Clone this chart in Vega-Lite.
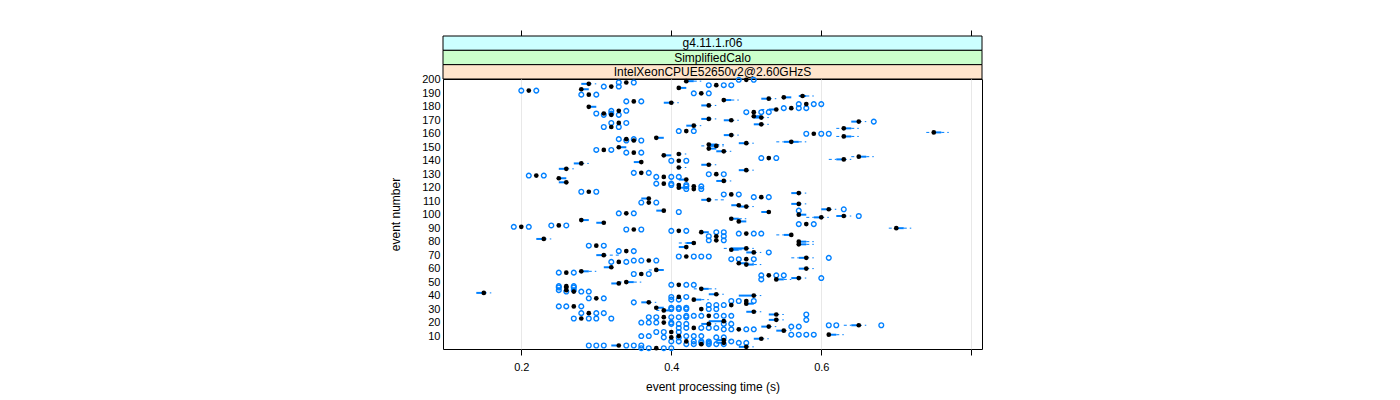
{
  "$schema": "https://vega.github.io/schema/vega-lite/v6.json",
  "padding": {"left": 389, "top": 29, "right": 5, "bottom": 5},
  "spacing": 0,
  "bounds": "flush",
  "config": {"font": "Liberation Sans", "view": {"stroke": null}},
  "datasets": {
    "box": [
      {"e":200,"med":0.50,"q1":0.50,"q3":0.50,"lo":0.50,"hi":0.50},
      {"e":199,"med":0.42,"q1":0.42,"q3":0.43,"lo":0.42,"hi":0.44},
      {"e":198,"med":0.34,"q1":0.34,"q3":0.34,"lo":0.34,"hi":0.34},
      {"e":197,"med":0.29,"q1":0.28,"q3":0.29,"lo":0.28,"hi":0.30},
      {"e":196,"med":0.46,"q1":0.46,"q3":0.46,"lo":0.46,"hi":0.46},
      {"e":195,"med":0.32,"q1":0.32,"q3":0.32,"lo":0.32,"hi":0.32},
      {"e":194,"med":0.41,"q1":0.41,"q3":0.42,"lo":0.41,"hi":0.42},
      {"e":193,"med":0.28,"q1":0.28,"q3":0.29,"lo":0.28,"hi":0.29},
      {"e":192,"med":0.21,"q1":0.21,"q3":0.21,"lo":0.21,"hi":0.21},
      {"e":190,"med":0.44,"q1":0.44,"q3":0.44,"lo":0.44,"hi":0.44},
      {"e":189,"med":0.29,"q1":0.29,"q3":0.29,"lo":0.29,"hi":0.29},
      {"e":188,"med":0.575,"q1":0.57,"q3":0.58,"lo":0.57,"hi":0.59},
      {"e":187,"med":0.55,"q1":0.55,"q3":0.56,"lo":0.55,"hi":0.56},
      {"e":186,"med":0.53,"q1":0.52,"q3":0.53,"lo":0.52,"hi":0.54},
      {"e":185,"med":0.47,"q1":0.47,"q3":0.48,"lo":0.47,"hi":0.49},
      {"e":184,"med":0.35,"q1":0.35,"q3":0.35,"lo":0.35,"hi":0.35},
      {"e":183,"med":0.40,"q1":0.39,"q3":0.40,"lo":0.39,"hi":0.41},
      {"e":182,"med":0.58,"q1":0.58,"q3":0.58,"lo":0.58,"hi":0.58},
      {"e":181,"med":0.45,"q1":0.44,"q3":0.45,"lo":0.44,"hi":0.46},
      {"e":180,"med":0.29,"q1":0.29,"q3":0.30,"lo":0.29,"hi":0.30},
      {"e":179,"med":0.56,"q1":0.56,"q3":0.56,"lo":0.56,"hi":0.56},
      {"e":178,"med":0.54,"q1":0.53,"q3":0.54,"lo":0.52,"hi":0.54},
      {"e":177,"med":0.33,"q1":0.33,"q3":0.33,"lo":0.33,"hi":0.33},
      {"e":176,"med":0.51,"q1":0.51,"q3":0.51,"lo":0.51,"hi":0.51},
      {"e":175,"med":0.31,"q1":0.31,"q3":0.31,"lo":0.31,"hi":0.31},
      {"e":174,"med":0.32,"q1":0.32,"q3":0.32,"lo":0.32,"hi":0.32},
      {"e":173,"med":0.51,"q1":0.51,"q3":0.52,"lo":0.51,"hi":0.52},
      {"e":172,"med":0.52,"q1":0.51,"q3":0.52,"lo":0.51,"hi":0.53},
      {"e":171,"med":0.45,"q1":0.44,"q3":0.45,"lo":0.44,"hi":0.46},
      {"e":170,"med":0.48,"q1":0.47,"q3":0.48,"lo":0.47,"hi":0.49},
      {"e":169,"med":0.65,"q1":0.64,"q3":0.65,"lo":0.64,"hi":0.66},
      {"e":168,"med":0.33,"q1":0.33,"q3":0.33,"lo":0.33,"hi":0.33},
      {"e":167,"med":0.52,"q1":0.51,"q3":0.52,"lo":0.51,"hi":0.53},
      {"e":166,"med":0.43,"q1":0.42,"q3":0.43,"lo":0.42,"hi":0.44},
      {"e":165,"med":0.32,"q1":0.32,"q3":0.32,"lo":0.32,"hi":0.32},
      {"e":164,"med":0.63,"q1":0.63,"q3":0.64,"lo":0.62,"hi":0.65},
      {"e":162,"med":0.42,"q1":0.42,"q3":0.42,"lo":0.42,"hi":0.42},
      {"e":161,"med":0.75,"q1":0.75,"q3":0.76,"lo":0.74,"hi":0.77},
      {"e":160,"med":0.59,"q1":0.59,"q3":0.59,"lo":0.59,"hi":0.59},
      {"e":159,"med":0.48,"q1":0.47,"q3":0.48,"lo":0.47,"hi":0.49},
      {"e":158,"med":0.63,"q1":0.63,"q3":0.64,"lo":0.62,"hi":0.65},
      {"e":157,"med":0.38,"q1":0.38,"q3":0.39,"lo":0.38,"hi":0.39},
      {"e":156,"med":0.34,"q1":0.34,"q3":0.34,"lo":0.34,"hi":0.34},
      {"e":155,"med":0.35,"q1":0.35,"q3":0.35,"lo":0.35,"hi":0.35},
      {"e":154,"med":0.56,"q1":0.55,"q3":0.57,"lo":0.54,"hi":0.58},
      {"e":153,"med":0.50,"q1":0.49,"q3":0.50,"lo":0.49,"hi":0.51},
      {"e":152,"med":0.45,"q1":0.45,"q3":0.46,"lo":0.45,"hi":0.47},
      {"e":151,"med":0.46,"q1":0.45,"q3":0.46,"lo":0.44,"hi":0.47},
      {"e":150,"med":0.33,"q1":0.33,"q3":0.34,"lo":0.33,"hi":0.34},
      {"e":149,"med":0.45,"q1":0.45,"q3":0.46,"lo":0.45,"hi":0.46},
      {"e":148,"med":0.31,"q1":0.31,"q3":0.31,"lo":0.31,"hi":0.31},
      {"e":147,"med":0.47,"q1":0.46,"q3":0.47,"lo":0.46,"hi":0.48},
      {"e":146,"med":0.35,"q1":0.35,"q3":0.35,"lo":0.35,"hi":0.35},
      {"e":145,"med":0.41,"q1":0.41,"q3":0.41,"lo":0.41,"hi":0.42},
      {"e":144,"med":0.39,"q1":0.39,"q3":0.40,"lo":0.39,"hi":0.40},
      {"e":143,"med":0.65,"q1":0.65,"q3":0.66,"lo":0.64,"hi":0.67},
      {"e":142,"med":0.53,"q1":0.53,"q3":0.53,"lo":0.53,"hi":0.53},
      {"e":141,"med":0.63,"q1":0.62,"q3":0.63,"lo":0.61,"hi":0.64},
      {"e":140,"med":0.41,"q1":0.41,"q3":0.41,"lo":0.41,"hi":0.41},
      {"e":139,"med":0.36,"q1":0.35,"q3":0.36,"lo":0.35,"hi":0.36},
      {"e":138,"med":0.28,"q1":0.27,"q3":0.28,"lo":0.27,"hi":0.29},
      {"e":137,"med":0.45,"q1":0.44,"q3":0.45,"lo":0.44,"hi":0.46},
      {"e":135,"med":0.41,"q1":0.41,"q3":0.41,"lo":0.41,"hi":0.42},
      {"e":134,"med":0.26,"q1":0.25,"q3":0.26,"lo":0.25,"hi":0.27},
      {"e":133,"med":0.50,"q1":0.49,"q3":0.50,"lo":0.49,"hi":0.51},
      {"e":131,"med":0.36,"q1":0.36,"q3":0.36,"lo":0.36,"hi":0.36},
      {"e":130,"med":0.46,"q1":0.46,"q3":0.46,"lo":0.46,"hi":0.46},
      {"e":129,"med":0.22,"q1":0.22,"q3":0.22,"lo":0.22,"hi":0.22},
      {"e":128,"med":0.39,"q1":0.39,"q3":0.39,"lo":0.39,"hi":0.39},
      {"e":127,"med":0.25,"q1":0.25,"q3":0.26,"lo":0.25,"hi":0.26},
      {"e":126,"med":0.42,"q1":0.41,"q3":0.42,"lo":0.41,"hi":0.42},
      {"e":125,"med":0.47,"q1":0.46,"q3":0.47,"lo":0.46,"hi":0.48},
      {"e":124,"med":0.26,"q1":0.25,"q3":0.26,"lo":0.25,"hi":0.26},
      {"e":123,"med":0.39,"q1":0.39,"q3":0.39,"lo":0.39,"hi":0.39},
      {"e":122,"med":0.41,"q1":0.41,"q3":0.41,"lo":0.41,"hi":0.41},
      {"e":121,"med":0.43,"q1":0.43,"q3":0.43,"lo":0.43,"hi":0.43},
      {"e":120,"med":0.41,"q1":0.41,"q3":0.42,"lo":0.41,"hi":0.42},
      {"e":119,"med":0.43,"q1":0.43,"q3":0.43,"lo":0.43,"hi":0.43},
      {"e":117,"med":0.29,"q1":0.29,"q3":0.29,"lo":0.29,"hi":0.29},
      {"e":116,"med":0.57,"q1":0.56,"q3":0.57,"lo":0.56,"hi":0.58},
      {"e":115,"med":0.48,"q1":0.48,"q3":0.48,"lo":0.48,"hi":0.48},
      {"e":113,"med":0.52,"q1":0.52,"q3":0.52,"lo":0.52,"hi":0.52},
      {"e":112,"med":0.37,"q1":0.36,"q3":0.37,"lo":0.36,"hi":0.37},
      {"e":111,"med":0.45,"q1":0.44,"q3":0.45,"lo":0.44,"hi":0.47},
      {"e":109,"med":0.37,"q1":0.37,"q3":0.37,"lo":0.37,"hi":0.37},
      {"e":108,"med":0.57,"q1":0.56,"q3":0.57,"lo":0.56,"hi":0.58},
      {"e":107,"med":0.49,"q1":0.48,"q3":0.49,"lo":0.48,"hi":0.49},
      {"e":106,"med":0.50,"q1":0.49,"q3":0.50,"lo":0.49,"hi":0.51},
      {"e":104,"med":0.61,"q1":0.60,"q3":0.61,"lo":0.60,"hi":0.62},
      {"e":103,"med":0.39,"q1":0.38,"q3":0.39,"lo":0.38,"hi":0.39},
      {"e":102,"med":0.53,"q1":0.52,"q3":0.53,"lo":0.52,"hi":0.53},
      {"e":101,"med":0.34,"q1":0.34,"q3":0.34,"lo":0.34,"hi":0.34},
      {"e":100,"med":0.57,"q1":0.57,"q3":0.58,"lo":0.57,"hi":0.58},
      {"e":99,"med":0.63,"q1":0.62,"q3":0.63,"lo":0.62,"hi":0.64},
      {"e":98,"med":0.60,"q1":0.59,"q3":0.60,"lo":0.58,"hi":0.61},
      {"e":97,"med":0.48,"q1":0.48,"q3":0.49,"lo":0.48,"hi":0.50},
      {"e":96,"med":0.28,"q1":0.28,"q3":0.29,"lo":0.28,"hi":0.29},
      {"e":95,"med":0.49,"q1":0.49,"q3":0.50,"lo":0.49,"hi":0.50},
      {"e":94,"med":0.31,"q1":0.30,"q3":0.31,"lo":0.30,"hi":0.31},
      {"e":93,"med":0.58,"q1":0.58,"q3":0.58,"lo":0.58,"hi":0.58},
      {"e":92,"med":0.25,"q1":0.25,"q3":0.25,"lo":0.25,"hi":0.25},
      {"e":91,"med":0.20,"q1":0.20,"q3":0.20,"lo":0.20,"hi":0.20},
      {"e":90,"med":0.70,"q1":0.70,"q3":0.71,"lo":0.69,"hi":0.72},
      {"e":89,"med":0.35,"q1":0.35,"q3":0.35,"lo":0.35,"hi":0.35},
      {"e":88,"med":0.41,"q1":0.41,"q3":0.41,"lo":0.41,"hi":0.41},
      {"e":87,"med":0.44,"q1":0.44,"q3":0.45,"lo":0.44,"hi":0.45},
      {"e":86,"med":0.50,"q1":0.50,"q3":0.50,"lo":0.50,"hi":0.50},
      {"e":85,"med":0.56,"q1":0.55,"q3":0.56,"lo":0.54,"hi":0.56},
      {"e":84,"med":0.46,"q1":0.46,"q3":0.46,"lo":0.46,"hi":0.46},
      {"e":82,"med":0.23,"q1":0.22,"q3":0.23,"lo":0.22,"hi":0.24},
      {"e":81,"med":0.46,"q1":0.46,"q3":0.46,"lo":0.46,"hi":0.46},
      {"e":80,"med":0.57,"q1":0.57,"q3":0.58,"lo":0.57,"hi":0.59},
      {"e":79,"med":0.43,"q1":0.42,"q3":0.43,"lo":0.41,"hi":0.43},
      {"e":78,"med":0.57,"q1":0.57,"q3":0.58,"lo":0.57,"hi":0.59},
      {"e":77,"med":0.30,"q1":0.30,"q3":0.30,"lo":0.30,"hi":0.30},
      {"e":76,"med":0.42,"q1":0.41,"q3":0.42,"lo":0.41,"hi":0.42},
      {"e":75,"med":0.50,"q1":0.48,"q3":0.50,"lo":0.47,"hi":0.51},
      {"e":74,"med":0.48,"q1":0.48,"q3":0.49,"lo":0.48,"hi":0.50},
      {"e":73,"med":0.34,"q1":0.34,"q3":0.34,"lo":0.34,"hi":0.34},
      {"e":72,"med":0.51,"q1":0.50,"q3":0.51,"lo":0.50,"hi":0.52},
      {"e":70,"med":0.31,"q1":0.30,"q3":0.31,"lo":0.30,"hi":0.33},
      {"e":69,"med":0.42,"q1":0.42,"q3":0.42,"lo":0.42,"hi":0.42},
      {"e":68,"med":0.58,"q1":0.57,"q3":0.58,"lo":0.56,"hi":0.59},
      {"e":67,"med":0.50,"q1":0.50,"q3":0.50,"lo":0.50,"hi":0.50},
      {"e":66,"med":0.37,"q1":0.37,"q3":0.37,"lo":0.37,"hi":0.37},
      {"e":65,"med":0.33,"q1":0.33,"q3":0.33,"lo":0.33,"hi":0.33},
      {"e":64,"med":0.49,"q1":0.49,"q3":0.50,"lo":0.49,"hi":0.51},
      {"e":63,"med":0.50,"q1":0.50,"q3":0.51,"lo":0.50,"hi":0.52},
      {"e":61,"med":0.32,"q1":0.31,"q3":0.32,"lo":0.31,"hi":0.32},
      {"e":60,"med":0.58,"q1":0.57,"q3":0.58,"lo":0.57,"hi":0.59},
      {"e":59,"med":0.38,"q1":0.38,"q3":0.39,"lo":0.37,"hi":0.39},
      {"e":58,"med":0.28,"q1":0.28,"q3":0.29,"lo":0.28,"hi":0.30},
      {"e":57,"med":0.26,"q1":0.26,"q3":0.26,"lo":0.26,"hi":0.26},
      {"e":56,"med":0.36,"q1":0.36,"q3":0.36,"lo":0.36,"hi":0.36},
      {"e":55,"med":0.53,"q1":0.53,"q3":0.53,"lo":0.53,"hi":0.53},
      {"e":53,"med":0.57,"q1":0.56,"q3":0.57,"lo":0.56,"hi":0.58},
      {"e":52,"med":0.54,"q1":0.54,"q3":0.55,"lo":0.54,"hi":0.56},
      {"e":50,"med":0.34,"q1":0.34,"q3":0.35,"lo":0.33,"hi":0.36},
      {"e":49,"med":0.33,"q1":0.32,"q3":0.33,"lo":0.32,"hi":0.33},
      {"e":48,"med":0.41,"q1":0.41,"q3":0.41,"lo":0.41,"hi":0.41},
      {"e":47,"med":0.26,"q1":0.26,"q3":0.26,"lo":0.26,"hi":0.26},
      {"e":46,"med":0.26,"q1":0.26,"q3":0.26,"lo":0.26,"hi":0.26},
      {"e":45,"med":0.44,"q1":0.44,"q3":0.45,"lo":0.43,"hi":0.46},
      {"e":44,"med":0.26,"q1":0.26,"q3":0.26,"lo":0.26,"hi":0.26},
      {"e":43,"med":0.27,"q1":0.27,"q3":0.27,"lo":0.27,"hi":0.27},
      {"e":42,"med":0.15,"q1":0.14,"q3":0.15,"lo":0.14,"hi":0.16},
      {"e":41,"med":0.46,"q1":0.45,"q3":0.46,"lo":0.45,"hi":0.47},
      {"e":40,"med":0.51,"q1":0.49,"q3":0.51,"lo":0.49,"hi":0.52},
      {"e":39,"med":0.41,"q1":0.41,"q3":0.41,"lo":0.41,"hi":0.41},
      {"e":38,"med":0.30,"q1":0.30,"q3":0.30,"lo":0.30,"hi":0.30},
      {"e":37,"med":0.43,"q1":0.43,"q3":0.44,"lo":0.43,"hi":0.45},
      {"e":36,"med":0.50,"q1":0.50,"q3":0.50,"lo":0.50,"hi":0.50},
      {"e":35,"med":0.37,"q1":0.36,"q3":0.37,"lo":0.36,"hi":0.38},
      {"e":34,"med":0.50,"q1":0.50,"q3":0.51,"lo":0.50,"hi":0.51},
      {"e":33,"med":0.48,"q1":0.48,"q3":0.48,"lo":0.48,"hi":0.48},
      {"e":32,"med":0.27,"q1":0.27,"q3":0.27,"lo":0.27,"hi":0.27},
      {"e":31,"med":0.38,"q1":0.38,"q3":0.39,"lo":0.38,"hi":0.39},
      {"e":30,"med":0.44,"q1":0.44,"q3":0.44,"lo":0.44,"hi":0.44},
      {"e":29,"med":0.39,"q1":0.39,"q3":0.40,"lo":0.38,"hi":0.40},
      {"e":28,"med":0.51,"q1":0.50,"q3":0.51,"lo":0.50,"hi":0.52},
      {"e":27,"med":0.29,"q1":0.29,"q3":0.29,"lo":0.29,"hi":0.29},
      {"e":26,"med":0.54,"q1":0.53,"q3":0.54,"lo":0.53,"hi":0.55},
      {"e":25,"med":0.45,"q1":0.45,"q3":0.45,"lo":0.45,"hi":0.45},
      {"e":24,"med":0.39,"q1":0.39,"q3":0.39,"lo":0.39,"hi":0.39},
      {"e":23,"med":0.28,"q1":0.28,"q3":0.28,"lo":0.28,"hi":0.28},
      {"e":22,"med":0.54,"q1":0.53,"q3":0.54,"lo":0.53,"hi":0.55},
      {"e":21,"med":0.47,"q1":0.45,"q3":0.47,"lo":0.45,"hi":0.48},
      {"e":20,"med":0.39,"q1":0.39,"q3":0.39,"lo":0.39,"hi":0.39},
      {"e":19,"med":0.45,"q1":0.44,"q3":0.45,"lo":0.44,"hi":0.46},
      {"e":18,"med":0.65,"q1":0.64,"q3":0.65,"lo":0.63,"hi":0.66},
      {"e":17,"med":0.53,"q1":0.52,"q3":0.53,"lo":0.52,"hi":0.54},
      {"e":16,"med":0.43,"q1":0.43,"q3":0.43,"lo":0.43,"hi":0.43},
      {"e":15,"med":0.49,"q1":0.49,"q3":0.49,"lo":0.49,"hi":0.49},
      {"e":14,"med":0.55,"q1":0.54,"q3":0.55,"lo":0.54,"hi":0.56},
      {"e":13,"med":0.40,"q1":0.40,"q3":0.40,"lo":0.40,"hi":0.40},
      {"e":11,"med":0.61,"q1":0.61,"q3":0.62,"lo":0.61,"hi":0.63},
      {"e":10,"med":0.41,"q1":0.41,"q3":0.41,"lo":0.41,"hi":0.41},
      {"e":9,"med":0.40,"q1":0.40,"q3":0.40,"lo":0.40,"hi":0.40},
      {"e":8,"med":0.52,"q1":0.51,"q3":0.52,"lo":0.51,"hi":0.53},
      {"e":7,"med":0.47,"q1":0.46,"q3":0.47,"lo":0.46,"hi":0.48},
      {"e":6,"med":0.42,"q1":0.42,"q3":0.42,"lo":0.42,"hi":0.42},
      {"e":5,"med":0.47,"q1":0.46,"q3":0.47,"lo":0.46,"hi":0.47},
      {"e":4,"med":0.44,"q1":0.44,"q3":0.44,"lo":0.44,"hi":0.44},
      {"e":3,"med":0.33,"q1":0.32,"q3":0.33,"lo":0.32,"hi":0.33},
      {"e":2,"med":0.50,"q1":0.49,"q3":0.50,"lo":0.49,"hi":0.51},
      {"e":1,"med":0.38,"q1":0.38,"q3":0.38,"lo":0.38,"hi":0.38}
    ],
    "out": [
      {"e":200,"v":0.49},{"e":200,"v":0.51},
      {"e":198,"v":0.33},{"e":198,"v":0.35},
      {"e":196,"v":0.45},{"e":196,"v":0.47},{"e":196,"v":0.48},
      {"e":195,"v":0.31},{"e":195,"v":0.33},
      {"e":192,"v":0.20},{"e":192,"v":0.22},
      {"e":190,"v":0.43},{"e":190,"v":0.45},
      {"e":189,"v":0.28},{"e":189,"v":0.30},
      {"e":184,"v":0.34},{"e":184,"v":0.36},
      {"e":182,"v":0.57},{"e":182,"v":0.59},{"e":182,"v":0.60},
      {"e":179,"v":0.55},{"e":179,"v":0.57},{"e":179,"v":0.58},
      {"e":177,"v":0.32},{"e":177,"v":0.34},
      {"e":176,"v":0.50},{"e":176,"v":0.52},{"e":176,"v":0.53},
      {"e":175,"v":0.30},{"e":175,"v":0.32},
      {"e":174,"v":0.31},{"e":174,"v":0.33},
      {"e":169,"v":0.67},
      {"e":168,"v":0.32},{"e":168,"v":0.34},
      {"e":165,"v":0.31},{"e":165,"v":0.33},
      {"e":162,"v":0.41},{"e":162,"v":0.43},
      {"e":160,"v":0.58},{"e":160,"v":0.60},{"e":160,"v":0.61},
      {"e":156,"v":0.33},{"e":156,"v":0.35},
      {"e":155,"v":0.34},{"e":155,"v":0.36},
      {"e":148,"v":0.30},{"e":148,"v":0.32},
      {"e":146,"v":0.34},{"e":146,"v":0.36},
      {"e":142,"v":0.52},{"e":142,"v":0.54},
      {"e":140,"v":0.40},{"e":140,"v":0.42},
      {"e":131,"v":0.35},{"e":131,"v":0.37},
      {"e":130,"v":0.45},{"e":130,"v":0.47},
      {"e":129,"v":0.21},{"e":129,"v":0.23},
      {"e":128,"v":0.38},{"e":128,"v":0.40},{"e":128,"v":0.41},
      {"e":123,"v":0.38},{"e":123,"v":0.40},
      {"e":122,"v":0.40},{"e":122,"v":0.42},
      {"e":121,"v":0.42},{"e":121,"v":0.44},
      {"e":119,"v":0.42},{"e":119,"v":0.44},
      {"e":117,"v":0.28},{"e":117,"v":0.30},
      {"e":115,"v":0.47},{"e":115,"v":0.49},
      {"e":113,"v":0.51},{"e":113,"v":0.53},
      {"e":109,"v":0.36},{"e":109,"v":0.38},
      {"e":104,"v":0.63},
      {"e":103,"v":0.57},
      {"e":102,"v":0.41},
      {"e":101,"v":0.33},{"e":101,"v":0.35},
      {"e":99,"v":0.65},
      {"e":93,"v":0.57},{"e":93,"v":0.59},
      {"e":92,"v":0.24},{"e":92,"v":0.26},
      {"e":91,"v":0.19},{"e":91,"v":0.21},
      {"e":89,"v":0.34},{"e":89,"v":0.36},
      {"e":88,"v":0.40},{"e":88,"v":0.42},
      {"e":87,"v":0.46},{"e":87,"v":0.47},
      {"e":86,"v":0.49},{"e":86,"v":0.51},{"e":86,"v":0.52},
      {"e":84,"v":0.45},{"e":84,"v":0.47},
      {"e":81,"v":0.45},{"e":81,"v":0.47},
      {"e":77,"v":0.29},{"e":77,"v":0.31},
      {"e":73,"v":0.33},{"e":73,"v":0.35},
      {"e":72,"v":0.53},
      {"e":69,"v":0.41},{"e":69,"v":0.43},{"e":69,"v":0.44},{"e":69,"v":0.45},
      {"e":68,"v":0.61},
      {"e":67,"v":0.48},{"e":67,"v":0.49},{"e":67,"v":0.51},
      {"e":66,"v":0.35},{"e":66,"v":0.36},{"e":66,"v":0.38},
      {"e":65,"v":0.32},{"e":65,"v":0.34},
      {"e":57,"v":0.25},{"e":57,"v":0.27},
      {"e":56,"v":0.35},{"e":56,"v":0.37},
      {"e":55,"v":0.52},{"e":55,"v":0.54},{"e":55,"v":0.55},
      {"e":53,"v":0.60},
      {"e":52,"v":0.52},
      {"e":48,"v":0.40},{"e":48,"v":0.42},{"e":48,"v":0.43},
      {"e":47,"v":0.25},{"e":47,"v":0.27},
      {"e":46,"v":0.25},{"e":46,"v":0.27},
      {"e":44,"v":0.25},{"e":44,"v":0.27},
      {"e":43,"v":0.26},{"e":43,"v":0.28},{"e":43,"v":0.29},
      {"e":39,"v":0.40},{"e":39,"v":0.42},
      {"e":38,"v":0.29},{"e":38,"v":0.31},
      {"e":37,"v":0.40},{"e":37,"v":0.41},
      {"e":36,"v":0.48},{"e":36,"v":0.49},{"e":36,"v":0.51},
      {"e":35,"v":0.35},
      {"e":33,"v":0.45},{"e":33,"v":0.46},{"e":33,"v":0.47},
      {"e":32,"v":0.25},{"e":32,"v":0.26},{"e":32,"v":0.28},
      {"e":31,"v":0.40},{"e":31,"v":0.41},{"e":31,"v":0.42},
      {"e":30,"v":0.40},{"e":30,"v":0.41},{"e":30,"v":0.42},{"e":30,"v":0.45},{"e":30,"v":0.46},
      {"e":27,"v":0.28},{"e":27,"v":0.30},{"e":27,"v":0.31},
      {"e":26,"v":0.58},
      {"e":25,"v":0.42},{"e":25,"v":0.43},{"e":25,"v":0.44},{"e":25,"v":0.46},{"e":25,"v":0.47},{"e":25,"v":0.48},
      {"e":24,"v":0.37},{"e":24,"v":0.38},{"e":24,"v":0.40},{"e":24,"v":0.41},{"e":24,"v":0.42},
      {"e":23,"v":0.27},{"e":23,"v":0.29},{"e":23,"v":0.30},{"e":23,"v":0.32},
      {"e":22,"v":0.58},
      {"e":20,"v":0.36},{"e":20,"v":0.37},{"e":20,"v":0.38},{"e":20,"v":0.40},
      {"e":19,"v":0.40},{"e":19,"v":0.41},{"e":19,"v":0.42},{"e":19,"v":0.47},{"e":19,"v":0.48},
      {"e":18,"v":0.61},{"e":18,"v":0.62},{"e":18,"v":0.68},
      {"e":17,"v":0.56},{"e":17,"v":0.57},
      {"e":16,"v":0.41},{"e":16,"v":0.42},{"e":16,"v":0.44},{"e":16,"v":0.45},{"e":16,"v":0.46},
      {"e":15,"v":0.47},{"e":15,"v":0.48},{"e":15,"v":0.50},{"e":15,"v":0.51},
      {"e":13,"v":0.38},{"e":13,"v":0.39},{"e":13,"v":0.41},
      {"e":11,"v":0.56},{"e":11,"v":0.57},{"e":11,"v":0.58},{"e":11,"v":0.59},
      {"e":10,"v":0.36},{"e":10,"v":0.37},{"e":10,"v":0.42},{"e":10,"v":0.43},{"e":10,"v":0.44},
      {"e":9,"v":0.39},{"e":9,"v":0.41},{"e":9,"v":0.46},{"e":9,"v":0.47},
      {"e":6,"v":0.40},{"e":6,"v":0.41},{"e":6,"v":0.43},{"e":6,"v":0.44},{"e":6,"v":0.45},{"e":6,"v":0.48},
      {"e":5,"v":0.44},{"e":5,"v":0.45},{"e":5,"v":0.49},{"e":5,"v":0.50},
      {"e":4,"v":0.42},{"e":4,"v":0.43},{"e":4,"v":0.45},{"e":4,"v":0.46},{"e":4,"v":0.47},
      {"e":3,"v":0.29},{"e":3,"v":0.30},{"e":3,"v":0.31},{"e":3,"v":0.34},{"e":3,"v":0.35},{"e":3,"v":0.36},
      {"e":1,"v":0.36},{"e":1,"v":0.37},{"e":1,"v":0.39},{"e":1,"v":0.40}
    ]
  },
  "vconcat": [
    {
      "width": 539,
      "height": 43,
      "data": {"values": [
        {"label": "g4.11.1.r06"},
        {"label": "SimplifiedCalo"},
        {"label": "IntelXeonCPUE52650v2@2.60GHzS"}
      ]},
      "layer": [
        {
          "mark": {"type": "rect", "stroke": "#000000", "strokeWidth": 1},
          "encoding": {
            "y": {"field": "label", "type": "nominal", "sort": null, "scale": {"paddingInner": 0, "paddingOuter": 0}, "axis": null},
            "fill": {"field": "label", "type": "nominal", "scale": {"domain": ["g4.11.1.r06", "SimplifiedCalo", "IntelXeonCPUE52650v2@2.60GHzS"], "range": ["#CCFFFF", "#CCFFCC", "#FFE5CC"]}, "legend": null}
          }
        },
        {
          "mark": {"type": "text", "fontSize": 12, "color": "#000000", "baseline": "middle"},
          "encoding": {
            "y": {"field": "label", "type": "nominal", "sort": null, "axis": null},
            "text": {"field": "label"}
          }
        },
        {
          "mark": {"type": "point", "opacity": 0},
          "encoding": {
            "x": {"datum": 0.5, "type": "quantitative", "scale": {"domain": [0.0956, 0.8143], "nice": false, "zero": false},
                  "axis": {"orient": "top", "values": [0.2, 0.4, 0.6, 0.8], "labels": false, "ticks": true, "tickSize": 6, "tickColor": "#000000", "domain": false, "grid": false, "title": null}}
          }
        }
      ]
    },
    {
      "width": 539,
      "height": 270,
      "view": {"stroke": "#000000", "strokeWidth": 1},
      "encoding": {
        "y": {"field": "e", "type": "quantitative", "scale": {"domain": [0.4, 200.6], "nice": false, "zero": false},
              "axis": {"values": [10,20,30,40,50,60,70,80,90,100,110,120,130,140,150,160,170,180,190,200], "title": "event number", "titleFontSize": 12, "titleFontWeight": "normal", "titleColor": "#000000", "titlePadding": 19, "labelFontSize": 11, "labelColor": "#000000", "tickSize": 0, "labelPadding": 3, "domain": false, "grid": false}}
      },
      "layer": [
        {
          "data": {"name": "box"},
          "mark": {"type": "rule", "color": "#0080ff", "strokeWidth": 1, "strokeDash": [3, 3]},
          "encoding": {
            "x": {"field": "lo", "type": "quantitative", "scale": {"domain": [0.0956, 0.8143], "nice": false, "zero": false},
                  "axis": {"values": [0.2, 0.4, 0.6, 0.8], "labelExpr": "datum.value > 0.7 ? '' : datum.label", "format": ".1f", "title": "event processing time (s)", "titleFontSize": 12, "titleFontWeight": "normal", "titleColor": "#000000", "titlePadding": 9, "labelFontSize": 11, "labelColor": "#000000", "tickSize": 6, "tickColor": "#000000", "domain": false, "grid": true, "gridColor": "#e8e8e8", "labelPadding": 6}},
            "x2": {"field": "q1"}
          }
        },
        {
          "data": {"name": "box"},
          "mark": {"type": "rule", "color": "#0080ff", "strokeWidth": 1, "strokeDash": [3, 3]},
          "encoding": {
            "x": {"field": "q3", "type": "quantitative"},
            "x2": {"field": "hi"}
          }
        },
        {
          "data": {"name": "box"},
          "mark": {"type": "rule", "color": "#0080ff", "strokeWidth": 2},
          "encoding": {
            "x": {"field": "q1", "type": "quantitative"},
            "x2": {"field": "q3"}
          }
        },
        {
          "data": {"name": "out"},
          "mark": {"type": "point", "shape": "circle", "filled": false, "color": "#0080ff", "strokeWidth": 1.4, "size": 22, "opacity": 1},
          "encoding": {
            "x": {"field": "v", "type": "quantitative"}
          }
        },
        {
          "data": {"name": "box"},
          "mark": {"type": "point", "shape": "circle", "filled": true, "color": "#000000", "size": 22, "opacity": 1},
          "encoding": {
            "x": {"field": "med", "type": "quantitative"}
          }
        }
      ]
    }
  ]
}
